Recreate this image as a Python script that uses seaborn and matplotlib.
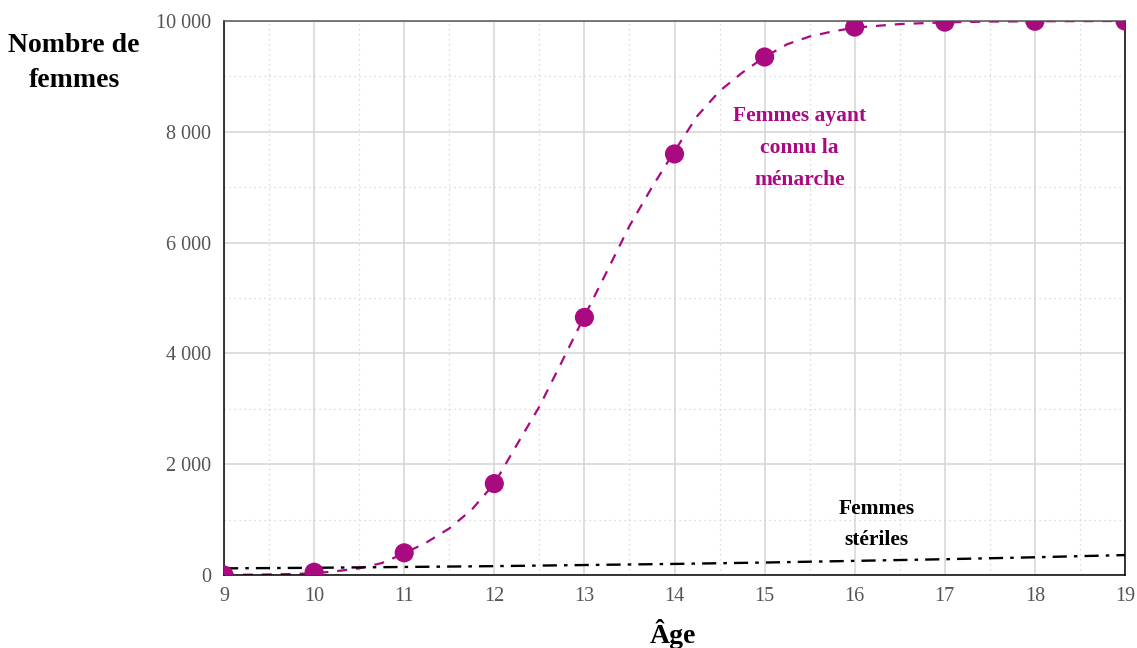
import numpy as np
import pandas as pd
import matplotlib
matplotlib.use("Agg")
import matplotlib.pyplot as plt
import matplotlib.ticker as mticker
import seaborn as sns

# observed points (ages and number of women who had their menarche)
ages = [9, 10, 11, 12, 13, 14, 15, 16, 17, 18, 19]
menarche = [0, 50, 400, 1650, 4650, 7600, 9350, 9890, 9980, 9995, 10000]

# fitted curve, read at quarter years
curve_ages = [9.0, 9.25, 9.5, 9.75, 10.0, 10.25, 10.5, 10.75, 11.0, 11.25, 11.5, 11.75,
              12.0, 12.25, 12.5, 12.75, 13.0, 13.25, 13.5, 13.75, 14.0, 14.25, 14.5, 14.75,
              15.0, 15.25, 15.5, 15.75, 16.0, 16.5, 17.0, 17.5, 18.0, 19.0]
curve_values = [0, 5, 10, 18, 30, 70, 120, 215, 390, 590, 840, 1180,
                1650, 2350, 3040, 3850, 4670, 5480, 6300, 7000, 7650, 8280, 8735, 9065,
                9350, 9580, 9720, 9810, 9880, 9945, 9975, 9990, 9995, 10000]

# sterile women
sterile = [120, 130, 145, 160, 180, 200, 225, 255, 285, 320, 360]

purple = "#aa0a80"

sns.set_style("white")
plt.rcParams["font.family"] = ["Liberation Serif", "DejaVu Serif"]

fig = plt.figure(figsize=(11.37, 6.48), dpi=100)
ax = fig.add_axes([224 / 1137, 1 - 575 / 648, (1125 - 224) / 1137, (575 - 21) / 648])

# grid
ax.set_xticks(range(9, 20))
ax.set_xticks(np.arange(9.5, 19, 1), minor=True)
ax.set_yticks(range(0, 10001, 2000))
ax.set_yticks(range(1000, 10000, 2000), minor=True)
ax.grid(which="major", color="#d4d4d4", linewidth=1.1)
ax.grid(which="minor", color="#d0d0d0", linewidth=0.9, linestyle=(0, (1, 3)))
ax.set_axisbelow(True)

curve_df = pd.DataFrame({"age": curve_ages, "n": curve_values})
sns.lineplot(data=curve_df, x="age", y="n", ax=ax, color=purple,
             linewidth=1.6, dashes=False, linestyle=(0, (4.5, 4)))

sterile_df = pd.DataFrame({"age": ages, "n": sterile})
sns.lineplot(data=sterile_df, x="age", y="n", ax=ax, color="black",
             linewidth=1.7, linestyle=(0, (6, 3, 1.5, 3)))

points_df = pd.DataFrame({"age": ages, "n": menarche})
sns.scatterplot(data=points_df, x="age", y="n", ax=ax, color=purple,
                s=190, edgecolor="none", zorder=5)

ax.set_xlim(9, 19)
ax.set_ylim(0, 10000)
ax.yaxis.set_major_formatter(mticker.FuncFormatter(
    lambda v, p: "{:,}".format(int(v)).replace(",", " ")))
ax.tick_params(axis="both", which="major", labelsize=14.5, labelcolor="#555555",
               length=5, width=1, color="#555555", direction="out")
ax.tick_params(axis="both", which="minor", length=0)
ax.tick_params(axis="y", which="major", pad=4)

for side in ["left", "bottom", "right"]:
    ax.spines[side].set_color("black")
    ax.spines[side].set_linewidth(1.1)
ax.spines["top"].set_color("#555555")
ax.spines["top"].set_linewidth(1.1)

ax.set_xlabel("")
ax.set_ylabel("")

fig.text(74 / 1137, 1 - 63 / 648, "Nombre de\nfemmes", ha="center", va="center",
         fontsize=20, fontweight="bold", linespacing=1.5, color="black")
fig.text(673 / 1137, 1 - 634 / 648, "Âge", ha="center", va="center",
         fontsize=20, fontweight="bold", color="black")

ax.text(15.39, 7700, "Femmes ayant\nconnu la\nménarche", ha="center", va="center",
        fontsize=15.5, fontweight="bold", color=purple, linespacing=1.8)
ax.text(16.24, 910, "Femmes\nstériles", ha="center", va="center",
        fontsize=15.5, fontweight="bold", color="black", linespacing=1.7)

fig.savefig("out.png", dpi=100)
